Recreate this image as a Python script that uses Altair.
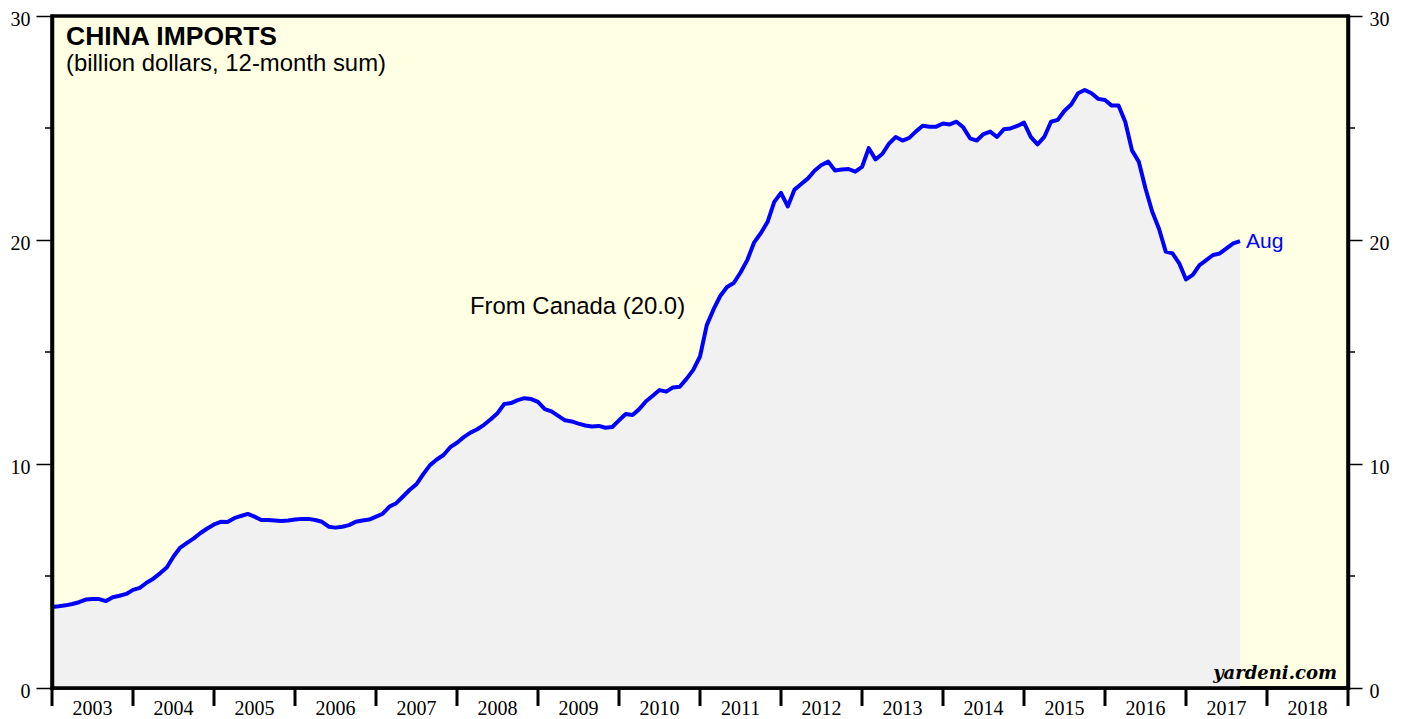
import altair as alt
import pandas as pd

# ---- data: China imports from Canada, billion US$, 12-month sum (month-end values)
v2002 = [3.62]  # Dec
v2003 = [3.65, 3.69, 3.75, 3.83, 3.95, 3.97, 3.97, 3.88, 4.05, 4.12, 4.20, 4.38]
v2004 = [4.47, 4.70, 4.88, 5.12, 5.38, 5.87, 6.27, 6.48, 6.68, 6.92, 7.12, 7.30]
v2005 = [7.42, 7.41, 7.58, 7.68, 7.77, 7.65, 7.50, 7.50, 7.48, 7.46, 7.48, 7.52]
v2006 = [7.55, 7.55, 7.50, 7.42, 7.20, 7.16, 7.20, 7.27, 7.42, 7.48, 7.52, 7.65]
v2007 = [7.78, 8.10, 8.25, 8.55, 8.85, 9.10, 9.55, 9.95, 10.20, 10.40, 10.75, 10.95]
v2008 = [11.20, 11.40, 11.55, 11.75, 12.00, 12.27, 12.68, 12.72, 12.85, 12.94, 12.90, 12.77]
v2009 = [12.45, 12.35, 12.15, 11.95, 11.90, 11.80, 11.72, 11.67, 11.70, 11.62, 11.65, 11.95]
v2010 = [12.23, 12.19, 12.45, 12.80, 13.05, 13.30, 13.23, 13.42, 13.45, 13.80, 14.20, 14.80]
v2011 = [16.20, 16.90, 17.50, 17.90, 18.08, 18.55, 19.10, 19.88, 20.30, 20.80, 21.70, 22.10]
v2012 = [21.50, 22.25, 22.50, 22.75, 23.10, 23.35, 23.50, 23.10, 23.15, 23.17, 23.05, 23.26]
v2013 = [24.10, 23.60, 23.84, 24.30, 24.60, 24.44, 24.56, 24.85, 25.10, 25.06, 25.06, 25.20]
v2014 = [25.16, 25.28, 25.03, 24.54, 24.44, 24.73, 24.84, 24.60, 24.94, 24.98, 25.09, 25.24]
v2015 = [24.60, 24.27, 24.60, 25.28, 25.36, 25.77, 26.05, 26.55, 26.70, 26.55, 26.30, 26.25]
v2016 = [26.00, 26.00, 25.28, 24.00, 23.50, 22.30, 21.26, 20.50, 19.48, 19.40, 18.96, 18.24]
v2017 = [18.44, 18.88, 19.10, 19.33, 19.40, 19.63, 19.85, 19.95]  # Jan-Aug

series = {
    2002: v2002, 2003: v2003, 2004: v2004, 2005: v2005, 2006: v2006,
    2007: v2007, 2008: v2008, 2009: v2009, 2010: v2010, 2011: v2011,
    2012: v2012, 2013: v2013, 2014: v2014, 2015: v2015, 2016: v2016,
    2017: v2017,
}

year_ticks = list(range(2003, 2020))      # year boundaries
year_labels = list(range(2003, 2019))     # labelled years
major_y = [0, 10, 20, 30]
minor_y = [5, 15, 25]

title_text = ["CHINA IMPORTS"]
subtitle_text = ["(billion dollars, 12-month sum)"]
series_label = ["From Canada (20.0)"]
last_label = "Aug"
credit = ["yardeni.com"]

rows = []
for year, vals in series.items():
    start = 12 if year == 2002 else 1
    for k, v in enumerate(vals):
        m = start + k
        rows.append({"month": f"{year}-{m:02d}", "t": year + m / 12.0, "value": v})
df = pd.DataFrame(rows)

W, H = 1296, 672
FILL_BG = "#FFFFE3"
GRAY = "#F1F1F1"
BLUE = "#0000FF"

xscale = alt.Scale(domain=[2003, 2019], nice=False, zero=False)
yscale = alt.Scale(domain=[0, 30], nice=False, zero=True)


def y_axis(orient, tick, pad):
    return alt.Axis(
        values=major_y, orient=orient, format="d",
        labelFont="Liberation Serif", labelFontSize=20, labelColor="black",
        labelPadding=pad, labelFlush=False, labelOffset=3,
        tickSize=tick, tickWidth=1.5, tickColor="black",
        domain=True, domainColor="black", domainWidth=3.5, domainCap="square",
        grid=False, title=None, zindex=1,
    )


base = alt.Chart(df)

area = base.mark_area(color=GRAY, opacity=1).encode(
    x=alt.X("t:Q", scale=xscale, axis=None),
    y=alt.Y("value:Q", scale=yscale, axis=y_axis("left", 16, 6)),
)

line = base.mark_line(color=BLUE, strokeWidth=4, strokeJoin="round").encode(
    x=alt.X("t:Q", scale=xscale, axis=None),
    y=alt.Y("value:Q", scale=yscale, axis=y_axis("right", 14, 7)),
    order="t:Q",
)

aug = alt.Chart(df.tail(1)).mark_text(
    align="left", baseline="middle", dx=6, dy=1, color=BLUE,
    font="Liberation Sans", fontSize=21,
).encode(
    x=alt.X("t:Q", scale=xscale, axis=None),
    y=alt.Y("value:Q", scale=yscale, axis=None),
    text=alt.value(last_label),
)

minor_df = pd.DataFrame({"v": minor_y})
left_minor = alt.Chart(minor_df).mark_rule(color="black", strokeWidth=1.5).encode(
    y=alt.Y("v:Q", scale=yscale, axis=None),
    x=alt.value(-7), x2=alt.value(0),
)
right_minor = alt.Chart(minor_df).mark_rule(color="black", strokeWidth=1.5).encode(
    y=alt.Y("v:Q", scale=yscale, axis=None),
    x=alt.value(W), x2=alt.value(W + 7),
)

# bottom frame line drawn over the area
bottom_line = alt.Chart(pd.DataFrame({"v": [0]})).mark_rule(
    color="black", strokeWidth=3.5, strokeCap="square"
).encode(
    y=alt.Y("v:Q", scale=yscale, axis=None),
    x=alt.value(0), x2=alt.value(W),
)

# year boundary ticks and centred year labels (time axis)
tick_df = pd.DataFrame({"yr": year_ticks})
year_ticks_layer = alt.Chart(tick_df).mark_rule(color="black", strokeWidth=3).encode(
    x=alt.X("yr:Q", scale=xscale, axis=None),
    y=alt.value(H), y2=alt.value(H + 18),
)
lab_df = pd.DataFrame({"yr": year_labels, "label": [str(y) for y in year_labels]})
lab_df["mid"] = lab_df["yr"] + 0.5
year_labels_layer = alt.Chart(lab_df).mark_text(
    align="center", baseline="alphabetic", font="Liberation Serif", fontSize=20,
    color="black",
).encode(
    x=alt.X("mid:Q", scale=xscale, axis=None),
    y=alt.value(H + 27),
    text="label:N",
)


def label(texts, x, y, size, weight="normal", align="left", font="Liberation Sans",
          style="normal", color="black"):
    return alt.Chart(pd.DataFrame({"text": texts})).mark_text(
        align=align, baseline="alphabetic", font=font, fontSize=size,
        fontWeight=weight, fontStyle=style, color=color,
    ).encode(x=alt.value(x), y=alt.value(y), text="text:N")


title = label(title_text, 14, 29, 26.5, weight="bold")
subtitle = label(subtitle_text, 14, 55, 23.9)
canada = label(series_label, 418, 298, 23.9)
yardeni = label(credit, 1285, 663, 18, weight="bold", align="right",
                font="DejaVu Serif", style="italic")

chart = (
    alt.layer(area, line, aug, left_minor, right_minor, bottom_line,
              year_ticks_layer, year_labels_layer,
              title, subtitle, canada, yardeni)
    .resolve_axis(y="independent")
    .properties(
        width=W, height=H,
        autosize=alt.AutoSizeParams(type="none"),
        padding={"left": 44, "top": 8, "right": 52, "bottom": 31},
        background="white",
    )
    .configure_view(fill=FILL_BG, stroke="black", strokeWidth=3.5)
)

chart.save("out.html", embed_options={"renderer": "svg", "actions": False})
